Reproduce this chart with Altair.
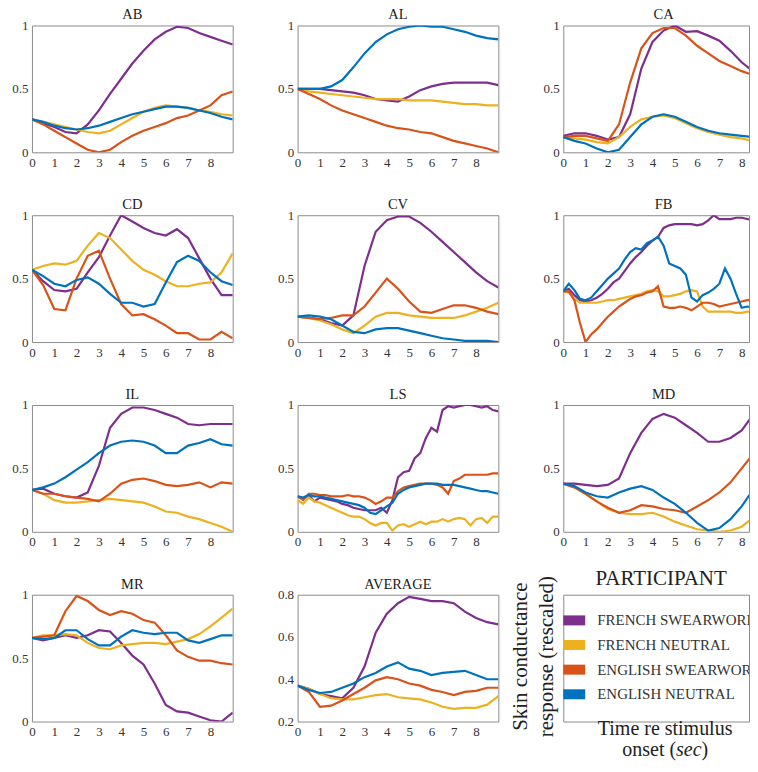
import altair as alt
import pandas as pd

FONT = "Liberation Serif"
SERIES = ["FRENCH SWEARWORD", "FRENCH NEUTRAL", "ENGLISH SWEARWORD", "ENGLISH NEUTRAL"]
COLORS = ["#7E2F8E", "#EDB120", "#D95319", "#0072BD"]
XTICKS = [0, 1, 2, 3, 4, 5, 6, 7, 8]

T = [0, 0.5, 1, 1.5, 2, 2.5, 3, 3.5, 4, 4.5, 5, 5.5, 6, 6.5, 7, 7.5, 8, 8.5, 9]
T_FINE = [0, 0.25, 0.5, 0.75, 1, 1.25, 1.5, 1.75, 2, 2.25, 2.5, 2.75, 3, 3.25, 3.5, 3.75,
          4, 4.25, 4.5, 4.75, 5, 5.25, 5.5, 5.75, 6, 6.25, 6.5, 6.75, 7, 7.25, 7.5, 7.75,
          8, 8.25, 8.5, 8.75, 9]

AB_FS = [0.26, 0.23, 0.20, 0.16, 0.15, 0.22, 0.33, 0.46, 0.58, 0.70, 0.80, 0.89, 0.95, 0.99, 0.98, 0.94, 0.91, 0.88, 0.85]
AB_FN = [0.26, 0.24, 0.22, 0.20, 0.18, 0.16, 0.15, 0.17, 0.22, 0.27, 0.32, 0.35, 0.37, 0.36, 0.35, 0.33, 0.32, 0.30, 0.29]
AB_ES = [0.26, 0.22, 0.17, 0.12, 0.07, 0.02, 0.00, 0.02, 0.08, 0.13, 0.17, 0.20, 0.23, 0.27, 0.29, 0.33, 0.37, 0.45, 0.48]
AB_EN = [0.26, 0.24, 0.21, 0.19, 0.18, 0.19, 0.21, 0.24, 0.27, 0.30, 0.32, 0.34, 0.36, 0.36, 0.35, 0.33, 0.31, 0.28, 0.26]

AL_FS = [0.50, 0.50, 0.50, 0.49, 0.48, 0.47, 0.45, 0.42, 0.41, 0.40, 0.44, 0.49, 0.52, 0.54, 0.55, 0.55, 0.55, 0.55, 0.53]
AL_FN = [0.50, 0.48, 0.47, 0.46, 0.45, 0.44, 0.43, 0.42, 0.42, 0.42, 0.41, 0.41, 0.41, 0.40, 0.39, 0.38, 0.38, 0.37, 0.37]
AL_ES = [0.50, 0.46, 0.42, 0.37, 0.33, 0.30, 0.27, 0.24, 0.21, 0.19, 0.18, 0.16, 0.15, 0.12, 0.09, 0.07, 0.05, 0.03, 0.00]
AL_EN = [0.50, 0.50, 0.50, 0.52, 0.57, 0.67, 0.78, 0.87, 0.93, 0.97, 0.99, 1.00, 0.99, 0.99, 0.97, 0.95, 0.92, 0.90, 0.89]

CA_FS = [0.13, 0.15, 0.15, 0.13, 0.10, 0.12, 0.30, 0.66, 0.87, 0.96, 1.00, 0.95, 0.955, 0.92, 0.88, 0.80, 0.71, 0.64, 0.58]
CA_FN = [0.12, 0.11, 0.10, 0.08, 0.07, 0.12, 0.20, 0.26, 0.28, 0.29, 0.27, 0.23, 0.19, 0.16, 0.14, 0.12, 0.11, 0.09, 0.08]
CA_ES = [0.12, 0.13, 0.13, 0.11, 0.09, 0.22, 0.55, 0.82, 0.94, 0.98, 0.98, 0.92, 0.84, 0.78, 0.72, 0.68, 0.64, 0.61, 0.59]
CA_EN = [0.12, 0.09, 0.07, 0.03, 0.00, 0.02, 0.12, 0.22, 0.28, 0.30, 0.28, 0.24, 0.20, 0.17, 0.15, 0.14, 0.13, 0.12, 0.10]

CD_FS = [0.57, 0.48, 0.41, 0.40, 0.42, 0.55, 0.67, 0.84, 1.00, 0.95, 0.90, 0.86, 0.84, 0.89, 0.82, 0.66, 0.50, 0.37, 0.37]
CD_FN = [0.57, 0.60, 0.62, 0.61, 0.64, 0.76, 0.86, 0.82, 0.73, 0.64, 0.57, 0.53, 0.48, 0.44, 0.44, 0.46, 0.47, 0.55, 0.70]
CD_ES = [0.57, 0.45, 0.26, 0.25, 0.50, 0.68, 0.72, 0.50, 0.30, 0.21, 0.22, 0.18, 0.13, 0.07, 0.07, 0.02, 0.02, 0.08, 0.03]
CD_EN = [0.57, 0.52, 0.46, 0.44, 0.49, 0.51, 0.46, 0.38, 0.31, 0.31, 0.28, 0.30, 0.47, 0.63, 0.68, 0.64, 0.55, 0.48, 0.45]

CV_FS = [0.20, 0.19, 0.18, 0.15, 0.13, 0.21, 0.60, 0.87, 0.96, 0.99, 0.99, 0.94, 0.87, 0.79, 0.71, 0.63, 0.55, 0.48, 0.43]
CV_FN = [0.20, 0.19, 0.17, 0.14, 0.10, 0.07, 0.13, 0.20, 0.23, 0.23, 0.21, 0.20, 0.19, 0.19, 0.19, 0.21, 0.24, 0.27, 0.31]
CV_ES = [0.20, 0.19, 0.18, 0.19, 0.21, 0.21, 0.28, 0.39, 0.50, 0.42, 0.32, 0.24, 0.23, 0.26, 0.29, 0.29, 0.27, 0.24, 0.22]
CV_EN = [0.20, 0.21, 0.20, 0.18, 0.13, 0.08, 0.07, 0.10, 0.11, 0.11, 0.09, 0.07, 0.05, 0.03, 0.02, 0.01, 0.01, 0.01, 0.00]

FB_FS = [0.40, 0.42, 0.37, 0.33, 0.32, 0.33, 0.35, 0.38, 0.42, 0.47, 0.50, 0.56, 0.62, 0.67, 0.71, 0.76,
         0.80, 0.83, 0.90, 0.92, 0.93, 0.93, 0.93, 0.93, 0.92, 0.93, 0.96, 1.00, 0.97, 0.97, 0.97, 0.98,
         0.98, 0.97, 0.96, 0.96, 0.96]
FB_FN = [0.40, 0.39, 0.34, 0.31, 0.31, 0.31, 0.31, 0.32, 0.33, 0.33, 0.34, 0.35, 0.36, 0.37, 0.38, 0.40,
         0.41, 0.40, 0.36, 0.36, 0.37, 0.38, 0.40, 0.41, 0.40, 0.28, 0.24, 0.24, 0.24, 0.24, 0.24, 0.23,
         0.23, 0.24, 0.24, 0.38, 0.40]
FB_ES = [0.40, 0.40, 0.33, 0.15, 0.00, 0.06, 0.10, 0.15, 0.20, 0.24, 0.28, 0.31, 0.34, 0.36, 0.37, 0.39,
         0.40, 0.44, 0.28, 0.27, 0.27, 0.28, 0.27, 0.25, 0.28, 0.31, 0.31, 0.30, 0.28, 0.29, 0.30, 0.31,
         0.32, 0.33, 0.33, 0.33, 0.33]
FB_EN = [0.40, 0.46, 0.41, 0.34, 0.33, 0.35, 0.40, 0.45, 0.50, 0.54, 0.58, 0.65, 0.71, 0.74, 0.73, 0.78,
         0.80, 0.83, 0.76, 0.62, 0.60, 0.58, 0.53, 0.35, 0.32, 0.37, 0.39, 0.42, 0.46, 0.58, 0.50, 0.38,
         0.27, 0.28, 0.27, 0.22, 0.20]

IL_FS = [0.33, 0.34, 0.30, 0.28, 0.27, 0.31, 0.52, 0.82, 0.93, 0.98, 0.98, 0.96, 0.93, 0.90, 0.85, 0.84, 0.85, 0.85, 0.85]
IL_FN = [0.33, 0.30, 0.25, 0.23, 0.23, 0.24, 0.25, 0.26, 0.25, 0.24, 0.23, 0.20, 0.16, 0.15, 0.12, 0.10, 0.07, 0.04, 0.00]
IL_ES = [0.33, 0.30, 0.30, 0.28, 0.27, 0.26, 0.24, 0.30, 0.38, 0.41, 0.42, 0.40, 0.37, 0.36, 0.37, 0.39, 0.35, 0.39, 0.38]
IL_EN = [0.33, 0.35, 0.38, 0.43, 0.49, 0.55, 0.62, 0.68, 0.71, 0.72, 0.71, 0.68, 0.62, 0.62, 0.68, 0.70, 0.73, 0.69, 0.68]

LS_FS = [0.28, 0.26, 0.29, 0.24, 0.27, 0.26, 0.25, 0.24, 0.22, 0.21, 0.19, 0.18, 0.17, 0.17, 0.17, 0.19,
         0.15, 0.25, 0.43, 0.47, 0.48, 0.58, 0.62, 0.74, 0.82, 0.79, 0.96, 0.99, 0.98, 0.99, 1.00, 1.00,
         0.99, 0.98, 0.99, 0.96, 0.95]
LS_FN = [0.25, 0.22, 0.27, 0.24, 0.23, 0.21, 0.19, 0.17, 0.15, 0.13, 0.12, 0.12, 0.10, 0.07, 0.05, 0.07,
         0.07, 0.01, 0.05, 0.06, 0.04, 0.06, 0.08, 0.06, 0.08, 0.08, 0.10, 0.08, 0.10, 0.11, 0.10, 0.05,
         0.10, 0.11, 0.07, 0.12, 0.12]
LS_ES = [0.28, 0.25, 0.30, 0.30, 0.29, 0.29, 0.28, 0.28, 0.28, 0.29, 0.28, 0.28, 0.27, 0.25, 0.22, 0.24,
         0.27, 0.27, 0.32, 0.35, 0.36, 0.37, 0.38, 0.38, 0.38, 0.37, 0.35, 0.30, 0.40, 0.42, 0.45, 0.45,
         0.45, 0.45, 0.45, 0.46, 0.46]
LS_EN = [0.28, 0.27, 0.29, 0.28, 0.28, 0.27, 0.26, 0.25, 0.24, 0.23, 0.22, 0.21, 0.19, 0.15, 0.14, 0.17,
         0.20, 0.23, 0.30, 0.33, 0.35, 0.36, 0.37, 0.38, 0.38, 0.38, 0.37, 0.37, 0.37, 0.36, 0.35, 0.34,
         0.33, 0.32, 0.32, 0.31, 0.30]

MD_FS = [0.38, 0.38, 0.37, 0.36, 0.37, 0.42, 0.62, 0.78, 0.89, 0.93, 0.90, 0.84, 0.78, 0.71, 0.71, 0.74, 0.80, 0.92, 0.99]
MD_FN = [0.38, 0.35, 0.30, 0.24, 0.18, 0.15, 0.14, 0.14, 0.15, 0.12, 0.08, 0.05, 0.02, 0.01, 0.00, 0.01, 0.04, 0.11, 0.10]
MD_ES = [0.38, 0.35, 0.30, 0.24, 0.19, 0.15, 0.17, 0.21, 0.20, 0.18, 0.17, 0.15, 0.20, 0.25, 0.31, 0.39, 0.50, 0.61, 0.68]
MD_EN = [0.38, 0.36, 0.31, 0.28, 0.27, 0.31, 0.34, 0.36, 0.33, 0.27, 0.22, 0.15, 0.07, 0.01, 0.03, 0.10, 0.20, 0.33, 0.45]

MR_FS = [0.66, 0.64, 0.66, 0.68, 0.66, 0.68, 0.72, 0.71, 0.62, 0.52, 0.45, 0.30, 0.13, 0.08, 0.07, 0.04, 0.01, 0.00, 0.07]
MR_FN = [0.66, 0.68, 0.68, 0.69, 0.68, 0.62, 0.58, 0.57, 0.60, 0.61, 0.62, 0.62, 0.61, 0.63, 0.65, 0.69, 0.75, 0.82, 0.89]
MR_ES = [0.66, 0.67, 0.68, 0.87, 0.99, 0.95, 0.88, 0.84, 0.87, 0.85, 0.80, 0.78, 0.68, 0.56, 0.51, 0.48, 0.48, 0.46, 0.45]
MR_EN = [0.66, 0.65, 0.66, 0.72, 0.72, 0.65, 0.60, 0.60, 0.67, 0.72, 0.70, 0.69, 0.70, 0.70, 0.64, 0.62, 0.65, 0.68, 0.68]

AV_FS = [0.37, 0.355, 0.33, 0.32, 0.31, 0.36, 0.46, 0.62, 0.71, 0.76, 0.79, 0.78, 0.77, 0.77, 0.76, 0.72, 0.69, 0.67, 0.66]
AV_FN = [0.37, 0.355, 0.33, 0.31, 0.305, 0.305, 0.315, 0.325, 0.33, 0.315, 0.31, 0.305, 0.29, 0.27, 0.26, 0.265, 0.265, 0.28, 0.32]
AV_ES = [0.37, 0.34, 0.27, 0.275, 0.30, 0.33, 0.36, 0.395, 0.41, 0.40, 0.38, 0.37, 0.35, 0.34, 0.325, 0.34, 0.345, 0.36, 0.36]
AV_EN = [0.37, 0.35, 0.335, 0.34, 0.36, 0.38, 0.41, 0.43, 0.46, 0.48, 0.45, 0.44, 0.42, 0.43, 0.435, 0.44, 0.42, 0.40, 0.40]

LEGEND_TITLE = "PARTICIPANT"
Y_LABEL = ["Skin conductance", "response (rescaled)"]
X_LABEL = ["Time re stimulus", "onset (", "sec", ")"]

W, W3, H = 201, 186, 127
XMAX = 9
XMAX3 = W3 / (W / XMAX)
AXIS_KW = dict(labelFont=FONT, labelFontSize=13, labelColor="#333333", labelPadding=4,
               labelFlush=False, domain=False, ticks=False, grid=False, title=None)


def text_layer(txt, x, y, size, align="center", baseline="middle", angle=0, style="normal"):
    return alt.Chart(pd.DataFrame({"txt": [txt]})).mark_text(
        font=FONT, fontSize=size, color="#222222", align=align, baseline=baseline,
        angle=angle, fontStyle=style).encode(x=alt.value(x), y=alt.value(y), text="txt:N")


def panel(title, t, fs, fn, es, en, col3=False, ydom=(0, 1), yvals=(0, 0.5, 1)):
    rows = []
    for s, vals in zip(SERIES, [fs, fn, es, en]):
        for ti, v in zip(t, vals):
            rows.append({"t": ti, "v": v, "s": s})
    df = pd.DataFrame(rows)
    xmax = XMAX3 if col3 else XMAX
    w = W3 if col3 else W
    lines = alt.Chart(df).mark_line(strokeWidth=2.2, clip=True).encode(
        x=alt.X("t:Q", scale=alt.Scale(domain=[0, xmax], nice=False, zero=False),
                axis=alt.Axis(values=XTICKS, format="d", **AXIS_KW)),
        y=alt.Y("v:Q", scale=alt.Scale(domain=list(ydom), nice=False, zero=False),
                axis=alt.Axis(values=list(yvals), format="~g", **AXIS_KW)),
        color=alt.Color("s:N", scale=alt.Scale(domain=SERIES, range=COLORS), legend=None),
        detail="s:N",
    )
    ttl = text_layer(title, W / 2, -6, 14.5, baseline="alphabetic")
    return alt.layer(lines, ttl).properties(width=w, height=H)


panels = [
    panel("AB", T, AB_FS, AB_FN, AB_ES, AB_EN),
    panel("AL", T, AL_FS, AL_FN, AL_ES, AL_EN),
    panel("CA", T, CA_FS, CA_FN, CA_ES, CA_EN, col3=True),
    panel("CD", T, CD_FS, CD_FN, CD_ES, CD_EN),
    panel("CV", T, CV_FS, CV_FN, CV_ES, CV_EN),
    panel("FB", T_FINE, FB_FS, FB_FN, FB_ES, FB_EN, col3=True),
    panel("IL", T, IL_FS, IL_FN, IL_ES, IL_EN),
    panel("LS", T_FINE, LS_FS, LS_FN, LS_ES, LS_EN),
    panel("MD", T, MD_FS, MD_FN, MD_ES, MD_EN, col3=True),
    panel("MR", T, MR_FS, MR_FN, MR_ES, MR_EN),
    panel("AVERAGE", T, AV_FS, AV_FN, AV_ES, AV_EN, ydom=(0.2, 0.8), yvals=(0.2, 0.4, 0.6, 0.8)),
]

# legend cell
leg_df = pd.DataFrame({"s": SERIES})
ypos = alt.Y("s:N", scale=alt.Scale(type="point", domain=SERIES, range=[25.7, 99.7], padding=0), axis=None)
swatch = alt.Chart(leg_df).mark_rule(strokeWidth=10, strokeCap="butt").encode(
    x=alt.value(0), x2=alt.value(22), y=ypos,
    color=alt.Color("s:N", scale=alt.Scale(domain=SERIES, range=COLORS), legend=None),
)
labels = alt.Chart(leg_df).mark_text(align="left", baseline="middle", font=FONT, fontSize=15,
                                     color="#333333", clip=True).encode(
    x=alt.value(34), y=ypos, text="s:N")

legend_cell = alt.layer(
    swatch, labels,
    text_layer(LEGEND_TITLE, 98, -10, 21, baseline="alphabetic"),
    text_layer(Y_LABEL[0], -42, 62, 21, angle=270),
    text_layer(Y_LABEL[1], -16, 62, 21, angle=270),
    text_layer(X_LABEL[0], 102, 134, 20),
    text_layer(X_LABEL[1], 113, 155, 20, align="right"),
    text_layer(X_LABEL[2], 113, 155, 20, align="left", style="italic"),
    text_layer(X_LABEL[3], 138.5, 155, 20, align="left"),
).properties(width=W3, height=H)

chart = alt.concat(*panels, legend_cell, columns=3, spacing={"row": 63, "column": 65},
                   bounds="flush").properties(
    padding={"left": 3, "top": -2, "right": 0, "bottom": 0}
).configure_view(
    stroke="#8c8c8c", strokeWidth=1
)

chart.save("out.html", embed_options={"renderer": "svg", "actions": False})
